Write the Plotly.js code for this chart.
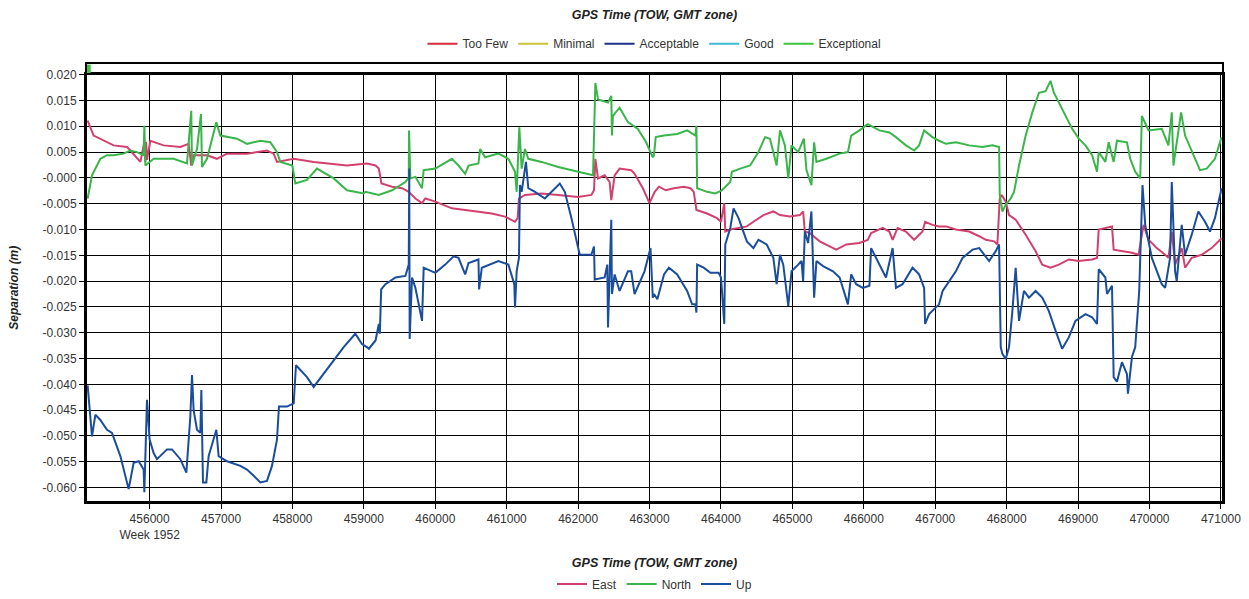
<!DOCTYPE html>
<html>
<head>
<meta charset="utf-8">
<script src="https://cdn.plot.ly/plotly-3.0.1.min.js"></script>
<style>html,body{margin:0;padding:0;background:#fff;}#chart{width:1249px;height:599px;}</style>
</head>
<body>
<div id="chart"></div>
<script>
// ---- East separation (m) ----
const eastX = [455132,455216,455496,455683,455730,455870,455926,455940,455950,455963,456010,456196,456430,456546,456583,456616,456803,456943,457083,457363,457643,457736,457783,458017,458297,458763,459043,
459163,459209,459246,459395,459535,459628,459721,459814,459860,460000,460232,460418,460604,460790,460976,461116,461153,461171,461255,461488,461720,461999,462185,462222,462241,462278,462371,462441,462464,462511,462580,462743,462790,462906,462999,463069,
463072,463132,463225,463341,463480,463573,463619,463656,463805,463944,464000,464046,464060,464130,464269,464362,464454,464594,464733,464826,464965,465104,465150,465174,465243,465382,465614,465754,465939,466055,466102,466264,466357,466403,466473,466589,466705,466821,466858,466960,467053,
467150,467289,467475,467615,467708,467824,467870,467903,467931,467987,468033,468126,468266,468405,468498,468614,468731,468870,469010,469196,469265,469289,469382,469475,469498,469614,469754,469847,469916,469986,470102,470219,470265,470312,470358,470451,470498,470591,470730,470870,471009];
const eastY = [0.0111,0.0082,0.0063,0.0060,0.0053,0.0031,0.0069,0.0031,0.0070,0.0035,0.0072,0.0063,0.0060,0.0066,0.0024,0.0044,0.0044,0.0037,0.0047,0.0047,0.0053,0.0047,0.0031,0.0037,0.0031,0.0024,0.0028,
0.0024,0.0018,-0.0011,-0.0017,-0.0020,-0.0027,-0.0040,-0.0049,-0.0040,-0.0046,-0.0059,-0.0062,-0.0065,-0.0069,-0.0075,-0.0085,-0.0078,-0.0040,-0.0033,-0.0030,-0.0033,-0.0037,-0.0033,-0.0024,0.0037,-0.0001,0.0005,-0.0008,-0.0043,0.0005,0.0018,0.0015,0.0008,-0.0020,-0.0049,-0.0030,
-0.0027,-0.0017,-0.0024,-0.0020,-0.0017,-0.0020,-0.0027,-0.0062,-0.0069,-0.0078,-0.0085,-0.0049,-0.0104,-0.0100,-0.0097,-0.0094,-0.0085,-0.0072,-0.0065,-0.0072,-0.0075,-0.0072,-0.0065,-0.0104,-0.0107,-0.0123,-0.0139,-0.0129,-0.0126,-0.0120,-0.0107,-0.0097,-0.0104,-0.0120,-0.0097,-0.0104,-0.0120,-0.0104,-0.0085,-0.0091,-0.0094,
-0.0094,-0.0100,-0.0104,-0.0113,-0.0120,-0.0123,-0.0129,-0.0040,-0.0033,-0.0046,-0.0072,-0.0081,-0.0110,-0.0142,-0.0168,-0.0174,-0.0168,-0.0158,-0.0161,-0.0158,-0.0155,-0.0100,-0.0097,-0.0094,-0.0139,-0.0142,-0.0145,-0.0149,-0.0091,-0.0120,-0.0136,-0.0149,-0.0155,-0.0104,-0.0168,-0.0136,-0.0174,-0.0155,-0.0149,-0.0136,-0.0117];

// ---- North separation (m) ----
const northX = [455132,455193,455310,455403,455496,455636,455730,455823,455916,455926,455940,456056,456336,456523,456583,456593,456663,456719,456733,456803,456934,456990,457223,457363,457550,457690,457783,457830,457998,458040,458203,458343,458577,458763,458997,
459023,459209,459395,459581,459628,459632,459651,459721,459814,459837,460000,460232,460325,460418,460465,460604,460627,460697,460883,461023,461116,461139,461176,461209,461255,461302,461488,461720,461999,462208,462241,462278,462418,462464,462473,462487,462580,462697,462836,462952,463045,
463062,463086,463202,463387,463526,463642,463656,463666,463805,463921,464014,464130,464153,464269,464408,464524,464617,464686,464779,464826,464895,464942,464988,465081,465160,465197,465266,465304,465336,465475,465661,465777,465823,465939,466055,466218,466357,466450,466589,466705,466774,466844,466960,467053,
467150,467289,467475,467661,467801,467894,467903,467940,467987,468056,468103,468173,468266,468359,468452,468545,468614,468661,468777,468917,469010,469103,469196,469265,469289,469382,469428,469498,469544,469684,469730,469800,469870,469893,469986,470172,470265,470312,470335,470442,470498,470637,470707,470800,470916,471009];
const northY = [-0.0040,0.0005,0.0037,0.0044,0.0044,0.0047,0.0053,0.0050,0.0044,0.0101,0.0024,0.0037,0.0037,0.0028,0.0130,0.0024,0.0056,0.0124,0.0021,0.0037,0.0108,0.0082,0.0076,0.0066,0.0072,0.0069,0.0050,0.0031,0.0024,-0.0011,-0.0004,0.0018,-0.0001,-0.0024,-0.0030,
-0.0027,-0.0033,-0.0024,-0.0008,0.0001,0.0092,-0.0001,0.0002,-0.0020,0.0015,0.0018,0.0037,0.0024,0.0008,0.0024,0.0028,0.0056,0.0040,0.0047,0.0037,0.0012,-0.0027,0.0098,0.0018,0.0056,0.0037,0.0031,0.0021,0.0012,0.0005,0.0184,0.0152,0.0146,0.0159,0.0082,0.0120,0.0136,0.0108,0.0095,0.0069,0.0040,
0.0044,0.0079,0.0082,0.0085,0.0092,0.0082,0.0101,-0.0020,-0.0027,-0.0030,-0.0024,-0.0008,0.0012,0.0018,0.0024,0.0050,0.0079,0.0076,0.0024,0.0092,0.0063,-0.0001,0.0063,0.0050,0.0076,0.0015,-0.0014,0.0069,0.0031,0.0037,0.0047,0.0050,0.0082,0.0092,0.0104,0.0092,0.0088,0.0079,0.0063,0.0053,0.0063,0.0092,0.0079,0.0072,
0.0066,0.0069,0.0063,0.0060,0.0063,0.0060,-0.0033,-0.0065,-0.0052,-0.0040,-0.0027,0.0024,0.0082,0.0127,0.0165,0.0168,0.0188,0.0165,0.0133,0.0095,0.0076,0.0063,0.0044,0.0012,0.0050,0.0031,0.0069,0.0031,0.0072,0.0069,0.0037,0.0012,-0.0001,0.0120,0.0092,0.0095,0.0063,0.0127,0.0024,0.0127,0.0082,0.0037,0.0015,0.0018,0.0037,0.0079];

// ---- Up separation (m) ----
const upX = [455132,455160,455193,455240,455310,455403,455473,455590,455706,455776,455846,455916,455926,455963,456000,456056,456103,456243,456313,456430,456514,456570,456593,456616,456663,456710,456724,456747,456794,456826,456896,456934,456966,457083,457270,457363,457457,457550,457643,457713,457783,457811,457923,458017,458049,458110,458203,458297,458437,458577,458717,458880,458973,459043,
459070,459163,459209,459223,459242,459302,459442,459581,459628,459635,459641,459674,459721,459814,459837,460000,460139,460255,460325,460418,460465,460604,460613,460651,460883,461023,461106,461116,461139,461171,461185,461209,461269,461302,461395,461534,461674,461743,461813,461906,462022,462185,462222,462232,462371,462408,462418,462464,462473,462511,462580,462697,462743,462790,462929,463013,463045,
463062,463109,463202,463271,463387,463526,463596,463642,463656,463666,463758,463851,463967,464000,464046,464060,464130,464176,464246,464362,464454,464524,464640,464733,464779,464826,464872,464942,464988,465081,465127,465150,465174,465220,465266,465304,465336,465429,465568,465661,465777,465823,465893,465986,466078,466102,466218,466310,466403,466450,466542,466682,466774,466844,466858,466914,467053,
467103,467196,467289,467382,467522,467615,467754,467847,467894,467917,467940,467987,468033,468080,468126,468173,468242,468312,468405,468498,468591,468684,468777,468870,468963,469103,469196,469265,469289,469382,469405,469475,469498,469544,469614,469684,469698,469754,469800,469856,469884,469902,469940,470033,470172,470219,470288,470312,470358,470381,470451,470498,470591,470684,470777,470847,470916,471009];
const upY = [-0.0402,-0.0450,-0.0501,-0.0459,-0.0469,-0.0488,-0.0494,-0.0539,-0.0603,-0.0552,-0.0549,-0.0565,-0.0609,-0.0430,-0.0507,-0.0533,-0.0545,-0.0526,-0.0526,-0.0545,-0.0571,-0.0462,-0.0382,-0.0450,-0.0488,-0.0494,-0.0411,-0.0590,-0.0590,-0.0539,-0.0507,-0.0488,-0.0539,-0.0549,-0.0558,-0.0565,-0.0577,-0.0590,-0.0587,-0.0558,-0.0507,-0.0443,-0.0443,-0.0437,-0.0363,-0.0373,-0.0386,-0.0405,-0.0379,-0.0354,-0.0328,-0.0302,-0.0322,-0.0328,
-0.0331,-0.0315,-0.0283,-0.0302,-0.0216,-0.0206,-0.0193,-0.0190,-0.0168,0.0018,-0.0312,-0.0193,-0.0213,-0.0277,-0.0174,-0.0184,-0.0168,-0.0152,-0.0155,-0.0187,-0.0165,-0.0158,-0.0216,-0.0174,-0.0161,-0.0168,-0.0206,-0.0251,-0.0181,-0.0155,-0.0014,-0.0027,0.0031,-0.0020,-0.0027,-0.0040,-0.0020,-0.0011,-0.0027,-0.0078,-0.0149,-0.0149,-0.0133,-0.0197,-0.0193,-0.0168,-0.0290,-0.0081,-0.0225,-0.0187,-0.0219,-0.0181,-0.0181,-0.0225,-0.0181,-0.0136,-0.0232,
-0.0225,-0.0235,-0.0187,-0.0174,-0.0187,-0.0219,-0.0245,-0.0245,-0.0261,-0.0168,-0.0174,-0.0184,-0.0184,-0.0193,-0.0283,-0.0129,-0.0097,-0.0059,-0.0078,-0.0123,-0.0136,-0.0120,-0.0129,-0.0155,-0.0206,-0.0149,-0.0168,-0.0248,-0.0181,-0.0168,-0.0161,-0.0200,-0.0104,-0.0126,-0.0065,-0.0232,-0.0161,-0.0171,-0.0181,-0.0193,-0.0245,-0.0187,-0.0206,-0.0213,-0.0209,-0.0136,-0.0168,-0.0193,-0.0136,-0.0213,-0.0206,-0.0174,-0.0187,-0.0213,-0.0283,-0.0264,-0.0245,
-0.0219,-0.0200,-0.0181,-0.0155,-0.0139,-0.0136,-0.0161,-0.0142,-0.0129,-0.0328,-0.0341,-0.0351,-0.0328,-0.0258,-0.0174,-0.0277,-0.0219,-0.0232,-0.0219,-0.0232,-0.0258,-0.0296,-0.0331,-0.0309,-0.0277,-0.0264,-0.0270,-0.0283,-0.0177,-0.0193,-0.0225,-0.0209,-0.0386,-0.0395,-0.0357,-0.0380,-0.0418,-0.0347,-0.0328,-0.0219,-0.0117,-0.0014,-0.0091,-0.0155,-0.0206,-0.0213,-0.0155,-0.0008,-0.0181,-0.0200,-0.0091,-0.0149,-0.0110,-0.0065,-0.0085,-0.0104,-0.0078,-0.0020];

// ---- Solution quality strip ----
const qualityNames = ["Too Few","Minimal","Acceptable","Good","Exceptional"];
const qualityColors = ["#d62d3a","#c9c43a","#1c2f8c","#3cbcd4","#3cc43c"];
const stripQuality = "Exceptional";
const stripStartX = 455123;
const stripEndX = 455175;

// ---- Axis ticks ----
const xTickVals = [456000,457000,458000,459000,460000,461000,462000,463000,464000,465000,466000,467000,468000,469000,470000,471000];
const xTickText = ["456000<br>Week 1952","457000","458000","459000","460000","461000","462000","463000","464000","465000","466000","467000","468000","469000","470000","471000"];
const yTickVals = [0.020,0.015,0.010,0.005,0.000,-0.005,-0.010,-0.015,-0.020,-0.025,-0.030,-0.035,-0.040,-0.045,-0.050,-0.055,-0.060];
const yTickText = ["0.020","0.015","0.010","0.005","-0.000","-0.005","-0.010","-0.015","-0.020","-0.025","-0.030","-0.035","-0.040","-0.045","-0.050","-0.055","-0.060"];

const FONT = "Arial, 'Liberation Sans', sans-serif";
const traces = [];
traces.push({x:eastX, y:eastY, name:"East", type:"scatter", mode:"lines", line:{color:"#d2406e", width:2}, legend:"legend2"});
traces.push({x:northX, y:northY, name:"North", type:"scatter", mode:"lines", line:{color:"#3ab54a", width:2}, legend:"legend2"});
traces.push({x:upX, y:upY, name:"Up", type:"scatter", mode:"lines", line:{color:"#1a4d9c", width:2}, legend:"legend2"});
// legend entries for the quality strip
for (let i = 0; i < qualityNames.length; i++) {
  traces.push({x:[null], y:[null], name:qualityNames[i], type:"scatter", mode:"lines",
    line:{color:qualityColors[i], width:2}, xaxis:"x2", yaxis:"y2", legend:"legend", showlegend:true});
}
// the strip mark itself
traces.push({x:[stripStartX, stripEndX], y:[0.5, 0.5], name:stripQuality, type:"scatter", mode:"lines",
  line:{color:qualityColors[qualityNames.indexOf(stripQuality)], width:9}, xaxis:"x2", yaxis:"y2", showlegend:false});

const H = 599;
const layout = {
  width:1249, height:H,
  margin:{l:87, r:27, t:0, b:0},
  paper_bgcolor:"#ffffff", plot_bgcolor:"#ffffff",
  font:{family:FONT, size:12, color:"#333333"},
  title:{text:"<b><i>GPS Time (TOW, GMT zone)</i></b>", x:0.524, xanchor:"center", y:1-15/H, yanchor:"middle", font:{family:FONT, size:12.5, color:"#222"}},
  showlegend:true,
  legend:{orientation:"h", x:0.5, xanchor:"center", y:(H-44)/H, yanchor:"middle", font:{family:FONT, size:12, color:"#333"}, itemwidth:30, bgcolor:"rgba(0,0,0,0)"},
  legend2:{orientation:"h", x:0.5, xanchor:"center", y:(H-589)/H, yanchor:"middle", font:{family:FONT, size:12, color:"#333"}, itemwidth:30, bgcolor:"rgba(0,0,0,0)"},
  xaxis:{
    range:[455123, 471015], domain:[0,1], anchor:"y",
    tickmode:"array", tickvals:xTickVals, ticktext:xTickText,
    ticks:"outside", ticklen:5, tickcolor:"#000", tickwidth:1,
    showgrid:true, gridcolor:"#000", gridwidth:1,
    showline:true, linecolor:"#000", linewidth:3, mirror:true,
    zeroline:false, automargin:false,
    tickfont:{family:FONT, size:12, color:"#333"},
    title:{text:"<b><i>GPS Time (TOW, GMT zone)</i></b>", font:{family:FONT, size:12.5, color:"#222"}, standoff:18}
  },
  yaxis:{
    range:[-0.06256, 0.020], domain:[(H-505)/H, (H-75.3)/H], anchor:"x",
    tickmode:"array", tickvals:yTickVals, ticktext:yTickText,
    ticks:"outside", ticklen:5, tickcolor:"#000", tickwidth:1,
    showgrid:true, gridcolor:"#000", gridwidth:1,
    showline:true, linecolor:"#000", linewidth:3, mirror:true,
    zeroline:false, automargin:false,
    tickfont:{family:FONT, size:12, color:"#333"},
    title:{text:"<b><i>Separation (m)</i></b>", font:{family:FONT, size:12, color:"#222"}, standoff:22}
  },
  xaxis2:{
    range:[455123, 471015], anchor:"y2", matches:"x",
    showticklabels:false, ticks:"", showgrid:false, zeroline:false,
    showline:true, linecolor:"#000", linewidth:2, mirror:true
  },
  yaxis2:{
    range:[0,1], domain:[(H-73.5)/H, (H-65)/H], anchor:"x2",
    showticklabels:false, ticks:"", showgrid:false, zeroline:false,
    showline:true, linecolor:"#000", linewidth:2, mirror:true
  }
};

Plotly.newPlot("chart", traces, layout, {displayModeBar:false, staticPlot:true});
</script>
</body>
</html>
